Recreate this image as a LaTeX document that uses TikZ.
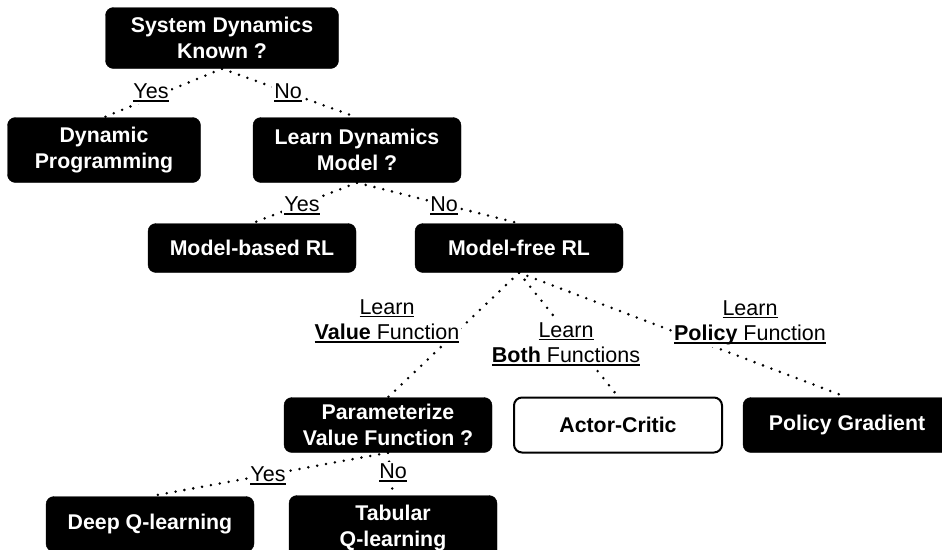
\documentclass[tikz,border=0pt]{standalone}
\usepackage{fontspec}
\setmainfont{Liberation Sans}
\usetikzlibrary{calc}
\newlength{\ulwd}
\newcommand{\ulined}[1]{\settowidth{\ulwd}{#1}\rlap{\rule[-3pt]{\ulwd}{1.5pt}}#1}
\tikzset{
	align=center,
	decision/.style={
		draw,
		fill=black,
		text=white,
		rounded corners=8pt,
		minimum width=208pt,
		inner sep=0pt,
		font=\fontsize{21.3}{25.5}\selectfont\bfseries
	},
	method/.style={
		decision,
		draw=black,
		line width=2pt,
		fill=white,
		text=black,
	},
	choice/.style={
		fill=white,
		inner sep=2pt,
		font=\fontsize{21.5}{25.5}\selectfont
	},
	branch/.style={
		line width=2.8pt,
		line cap=round,
		dash pattern=on 0pt off 9pt
	},
}

\begin{document}
\begin{tikzpicture}[x=1pt,y=-1pt]
		\useasboundingbox (0,0) rectangle (942,549);

		\node[decision, minimum height=61pt, minimum width=233pt]	(known) at (222,38) {System Dynamics\\Known ?};
		\node[decision, minimum height=65pt, minimum width=193pt]	(dynprog) at (104,150) {Dynamic\\Programming};
		\node[decision, minimum height=65pt]	(learnmodel) at (357,150) {Learn Dynamics\\Model ?};

		\node[decision, minimum height=49pt]	(modelbased) at (252,248) {Model-based RL};
		\node[decision, minimum height=49pt]	(modelfree) at (519,248) {Model-free RL};

		\node[decision, minimum height=55pt]	(paramvalue) at (388,425) {Parameterize\\Value Function ?};
		\node[method, minimum height=55pt]		(actorcritic) at (618,425) {Actor-Critic};
		\node[decision, minimum height=55pt]	(policygrad) at (847,425) {Policy Gradient};

		\node[decision, minimum height=55pt]	(deepq) at (150,524) {Deep Q-learning};
		\node[decision, minimum height=65pt]	(tabularq) at (393,528) {Tabular\\Q-learning};

		\draw[branch]		(known.south) -- (dynprog.north);
		\draw[branch]		(known.south) -- (learnmodel.north);
		\draw[branch]		(learnmodel.south) -- (modelbased.north);
		\draw[branch]		(learnmodel.south) -- (modelfree.north);
		\draw[branch]		(modelfree.south) -- (paramvalue.north);
		\draw[branch]		(modelfree.south) -- (actorcritic.north);
		\draw[branch]		(modelfree.south) -- (policygrad.north);
		\draw[branch]		(paramvalue.south) -- (deepq.north);
		\draw[branch]		(paramvalue.south) -- (tabularq.north);

		\node[choice]		(yesknown) at (151,93) {\ulined{Yes}};
		\node[choice]		(noknown) at (288,93) {\ulined{No}};
		\node[choice]		(yesmodel) at (302,206) {\ulined{Yes}};
		\node[choice]		(nomodel) at (444,206) {\ulined{No}};
		\node[choice]		(valuefn) at (387,321) {\ulined{Learn}\\\ulined{\textbf{Value} Function}};
		\node[choice]		(bothfn) at (566,344) {\ulined{Learn}\\\ulined{\textbf{Both} Functions}};
		\node[choice]		(policyfn) at (750,323) {\ulined{Learn}\\\ulined{\textbf{Policy} Function}};
		\node[choice]		(yesparam) at (268,476) {\ulined{Yes}};
		\node[choice]		(noparam) at (393,473) {\ulined{No}};

	\end{tikzpicture}
\end{document}
